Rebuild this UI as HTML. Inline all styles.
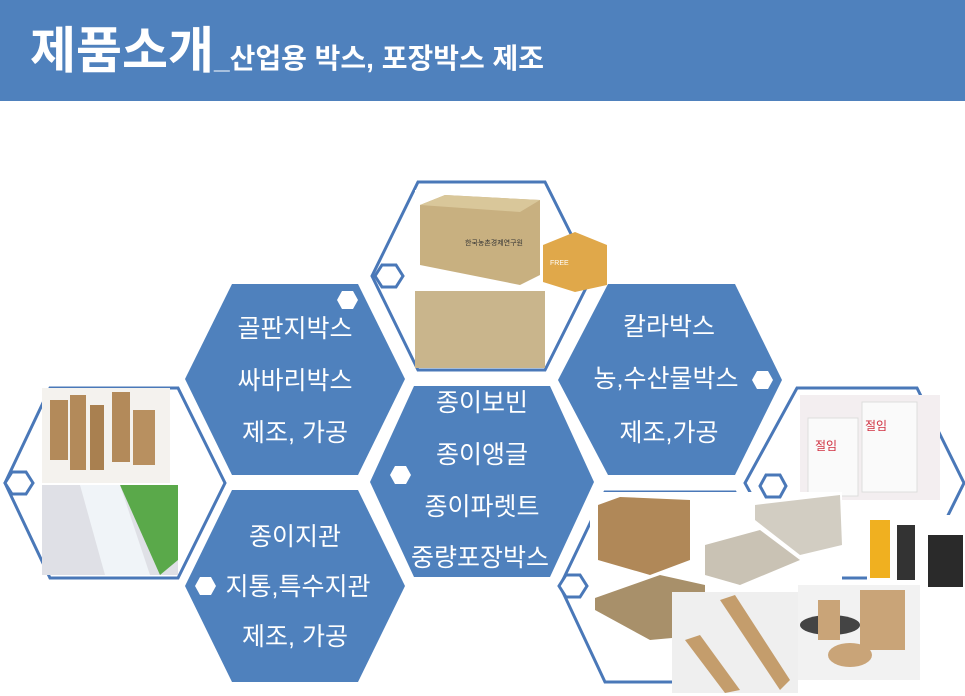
<!DOCTYPE html>
<html><head><meta charset="utf-8"><style>
html,body{margin:0;padding:0;width:965px;height:696px;overflow:hidden;background:#fff}
svg{display:block}
text{font-family:"Liberation Sans","Noto Sans CJK KR",sans-serif}
</style></head><body>
<svg width="965" height="696" viewBox="0 0 965 696" xmlns="http://www.w3.org/2000/svg">
<rect x="0" y="0" width="965" height="101" fill="#4f81bd"/>
<text x="30" y="68" font-size="50" font-weight="bold" fill="#fff">제품소개</text>
<text x="214" y="68" font-size="28" font-weight="bold" fill="#fff">_산업용 박스, 포장박스 제조</text>

<g fill="#fff" stroke="#4a78b8" stroke-width="3">
<polygon points="418,182 545,182 592,276 545,370 418,370 372,276"/>
<polygon points="50,388 178,388 225,483 178,578 50,578 5,483"/>
<polygon points="797,388 917,388 964,483 917,578 797,578 745,483"/>
<polygon points="605,492 735,492 780,586 735,682 605,682 560,586"/>
</g>

<g fill="#4f81bd">
<polygon points="232,284 358,284 405,379 358,475 232,475 185,379"/>
<polygon points="232,490 358,490 405,586 358,682 232,682 185,586"/>
<polygon points="414,386 550,386 594,482 550,577 414,577 370,482"/>
<polygon points="608,284 735,284 782,380 735,475 608,475 558,380"/>
</g>

<!-- photos top -->
<rect x="415" y="190" width="130" height="98" fill="#fff"/>
<polygon points="420,205 445,195 540,200 540,275 520,285 420,265" fill="#c8b080"/>
<polygon points="420,205 445,195 540,200 520,212" fill="#d9c79a"/>
<text x="465" y="245" font-size="7" fill="#333">한국농촌경제연구원</text>
<polygon points="543,245 575,232 607,245 607,285 575,292 543,282" fill="#e0a84a"/>
<text x="550" y="265" font-size="7" fill="#fff">FREE</text>
<rect x="415" y="291" width="130" height="77" fill="#c9b58c"/>
<!-- left photos -->
<rect x="42" y="388" width="128" height="95" fill="#f4f2ee"/>
<rect x="50" y="400" width="18" height="60" fill="#b38a5a"/>
<rect x="70" y="395" width="16" height="75" fill="#b38a5a"/>
<rect x="90" y="405" width="14" height="65" fill="#a98050"/>
<rect x="112" y="392" width="18" height="70" fill="#b38a5a"/>
<rect x="133" y="410" width="22" height="55" fill="#b89060"/>
<rect x="42" y="485" width="136" height="90" fill="#dfe0e6"/>
<polygon points="120,485 178,485 178,560 160,575" fill="#5aa94a"/>
<polygon points="80,485 120,485 150,575 105,575" fill="#f0f4f8"/>
<!-- right photos -->
<rect x="800" y="395" width="140" height="105" fill="#f3eef0"/>
<rect x="808" y="418" width="50" height="78" fill="#fafafa" stroke="#ddd"/>
<rect x="862" y="402" width="55" height="90" fill="#fafafa" stroke="#ddd"/>
<text x="815" y="450" font-size="12" fill="#d03040">절임</text>
<text x="865" y="430" font-size="12" fill="#d03040">절임</text>
<rect x="867" y="515" width="98" height="80" fill="#fff"/>
<rect x="870" y="520" width="20" height="58" fill="#f0b020"/>
<rect x="897" y="525" width="18" height="55" fill="#333"/>
<rect x="928" y="535" width="35" height="52" fill="#2a2a2a"/>
<!-- bottom right photos -->
<rect x="590" y="492" width="252" height="150" fill="#fff"/>
<polygon points="598,505 620,497 690,500 690,560 650,575 598,560" fill="#b08858"/>
<polygon points="705,545 760,530 800,560 740,585 705,575" fill="#c9c2b4"/>
<polygon points="755,505 840,495 842,545 800,555 755,520" fill="#d2cdc2"/>
<polygon points="595,598 660,575 705,585 705,635 650,640 595,610" fill="#a8906a"/>
<rect x="672" y="592" width="126" height="101" fill="#efefef"/>
<polygon points="720,600 735,595 790,680 780,690" fill="#c49d6c"/>
<polygon points="685,640 700,635 740,690 725,693" fill="#c49d6c"/>
<rect x="798" y="585" width="122" height="95" fill="#f2f2f2"/>
<rect x="860" y="590" width="45" height="60" fill="#c9a478"/>
<ellipse cx="830" cy="625" rx="30" ry="10" fill="#444"/>
<rect x="818" y="600" width="22" height="40" fill="#c9a478"/>
<ellipse cx="850" cy="655" rx="22" ry="12" fill="#c9a478"/>

<!-- small hexes -->
<g fill="#fff" stroke="#4a78b8" stroke-width="3">
<polygon points="382,265 396,265 403,276 396,287 382,287 375,276"/>
<polygon points="12,472 26,472 33,483 26,494 12,494 5,483"/>
<polygon points="566,575 580,575 587,586 580,597 566,597 559,586"/>
<polygon points="766,475 780,475 786,486 780,497 766,497 760,486"/>
</g>
<g fill="#fff">
<polygon points="342,291 353,291 358,300 353,309 342,309 337,300"/>
<polygon points="200,577 211,577 216,586 211,595 200,595 195,586"/>
<polygon points="395,466 406,466 411,475 406,484 395,484 390,475"/>
<polygon points="757,371 768,371 773,380 768,389 757,389 752,380"/>
</g>

<g fill="#fff" font-size="25" text-anchor="middle">
<text x="295" y="337">골판지박스</text>
<text x="295" y="389">싸바리박스</text>
<text x="295" y="441">제조, 가공</text>
<text x="295" y="545">종이지관</text>
<text x="298" y="595">지통,특수지관</text>
<text x="295" y="645">제조, 가공</text>
<text x="482" y="411">종이보빈</text>
<text x="482" y="463">종이앵글</text>
<text x="482" y="515">종이파렛트</text>
<text x="480" y="566">중량포장박스</text>
<text x="669" y="335">칼라박스</text>
<text x="666" y="387">농,수산물박스</text>
<text x="669" y="441">제조,가공</text>
</g>
</svg>
</body></html>
